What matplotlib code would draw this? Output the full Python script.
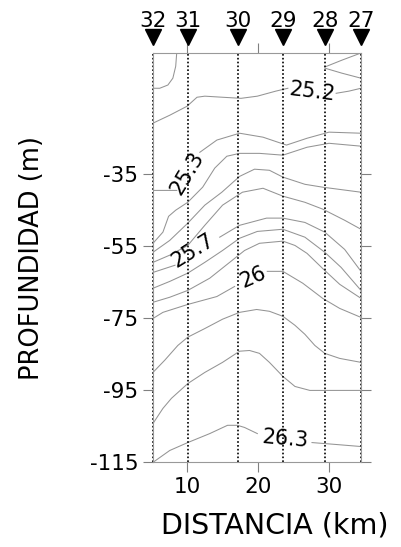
import numpy as np
import matplotlib
matplotlib.use("Agg")
import matplotlib.pyplot as plt
from matplotlib.transforms import blended_transform_factory

nan = np.nan

# estaciones (km)
stations = ["32", "31", "30", "29", "28", "27"]
station_km = [5.2, 10.1, 17.2, 23.5, 29.4, 34.5]

# isolineas de densidad: distancia (km) y profundidad (m), nan = hueco de etiqueta
x_a = [8.55, 8.4, 8.0, 7.3, 6.15, 5.2]
z_a = [-1.1, -5.0, -8.3, -10.2, -11.1, -11.1]
x_w1 = [29.4, 31.8, 34.5]
z_w1 = [-5.2, -3.3, -1.3]
x_w2 = [29.4, 31.8, 34.5]
z_w2 = [-5.5, -6.9, -8.3]

x_252 = [5.2, 7.56, 10.0, 11.4, 12.5, 15.0, 17.6, 19.9, 22.5, 24.2, nan, 31.0, 32.8, 34.5]
z_252 = [-20.8, -18.6, -16.1, -13.6, -13.3, -13.6, -13.9, -13.3, -11.9, -11.1, nan, -12.5, -11.9, -11.1]

x_253 = [5.2, 8.55, nan, 11.8, 14.2, 17.4, 20.7, 24.0, 26.9, 30.0, 34.5]
z_253 = [-39.5, -39.5, nan, -28.9, -25.5, -23.6, -24.7, -26.9, -25.0, -23.3, -23.6]

x_254 = [5.2, 6.6, 7.4, 8.4, 10.1, 12.2, 13.9, 15.6, 17.4, 20.2, 23.5, 26.9, 30.0, 34.5]
z_254 = [-54.2, -51.1, -46.7, -45.0, -42.8, -38.6, -33.3, -30.0, -29.2, -29.2, -29.7, -27.5, -26.4, -27.2]

x_255 = [5.2, 7.56, 10.1, 12.5, 14.9, 17.4, 19.5, 21.6, 23.5, 26.6, 29.1, 34.5]
z_255 = [-56.7, -53.4, -48.6, -43.6, -40.0, -35.6, -33.6, -33.9, -35.8, -37.8, -38.6, -40.0]

x_256 = [5.2, 7.56, 10.1, 12.5, 15.0, 17.8, 20.7, 23.5, 26.6, 29.1, 32.2, 34.5]
z_256 = [-59.5, -57.5, -54.8, -49.2, -43.6, -40.0, -38.9, -41.1, -42.8, -44.7, -47.8, -50.3]

x_257 = [5.2, 8.3, nan, 14.6, 17.4, 21.2, 23.5, 26.6, 29.4, 32.2, 34.5]
z_257 = [-62.3, -60.3, nan, -52.5, -49.2, -47.2, -47.2, -48.4, -51.1, -55.9, -62.0]

x_258 = [5.2, 7.56, 10.1, 12.5, 15.0, 17.4, 19.9, 23.5, 26.6, 29.4, 31.7, 34.5]
z_258 = [-66.7, -64.8, -62.5, -59.5, -56.2, -52.8, -50.9, -50.3, -52.5, -56.7, -60.9, -67.3]

x_259 = [5.2, 7.56, 10.1, 13.2, 16.0, 18.1, 20.2, 23.5, 25.2, 26.9, 29.1, 31.5, 34.5]
z_259 = [-70.6, -69.2, -67.3, -63.9, -59.5, -56.2, -54.2, -53.6, -54.8, -57.0, -61.2, -65.6, -69.5]

x_260 = [5.2, 6.6, 10.1, 14.2, 16.7, nan, 21.3, 23.5, 26.3, 29.1, 31.5, 34.5]
z_260 = [-75.1, -73.4, -71.2, -69.0, -66.2, nan, -62.0, -62.0, -65.3, -69.5, -72.3, -74.8]

x_261 = [5.2, 6.86, 8.7, 10.1, 12.5, 15.0, 17.4, 19.8, 21.6, 23.5, 25.2, 26.6, 28.0, 29.4, 31.5, 34.5]
z_261 = [-90.1, -86.7, -82.6, -80.3, -77.9, -75.3, -73.4, -72.6, -73.1, -74.5, -77.0, -79.5, -82.6, -84.8, -86.2, -87.3]

x_262 = [5.2, 6.6, 7.8, 10.1, 12.5, 15.0, 17.4, 18.8, 20.2, 21.6, 23.5, 25.2, 27.3, 29.4, 34.5]
z_262 = [-104.3, -100.1, -97.3, -93.2, -90.1, -87.3, -84.2, -84.0, -84.8, -87.3, -91.2, -94.0, -95.1, -95.1, -95.1]

x_263 = [5.2, 7.56, 10.1, 13.2, 15.7, 17.1, 18.1, 19.9, nan, 27.6, 30.8, 34.5]
z_263 = [-115.1, -111.8, -109.6, -107.1, -104.8, -104.8, -105.4, -107.1, nan, -109.6, -110.1, -110.7]

# etiquetas de las isolineas
label_text = ["25.2", "25.3", "25.7", "26", "26.3"]
label_x = [27.6, 10.0, 10.8, 19.25, 23.8]
label_z = [-12.2, -34.7, -56.1, -63.7, -108.5]
label_rot = [-7, 59, 32, 24, -5]

plt.rcParams["axes.unicode_minus"] = False
plt.rcParams["font.family"] = "DejaVu Sans"

fig = plt.figure(figsize=(4.01, 5.47), dpi=100)
ax = fig.add_axes([0.3815, 0.1554, 0.5187, 0.7477])

lines = [(x_a, z_a), (x_w1, z_w1), (x_w2, z_w2), (x_252, z_252), (x_253, z_253),
         (x_254, z_254), (x_255, z_255), (x_256, z_256), (x_257, z_257),
         (x_258, z_258), (x_259, z_259), (x_260, z_260), (x_261, z_261),
         (x_262, z_262), (x_263, z_263)]
for xs, zs in lines:
    ax.plot(xs, zs, color="0.58", lw=0.75)

for t, x, z, r in zip(label_text, label_x, label_z, label_rot):
    ax.text(x, z, t, rotation=r, ha="center", va="center", fontsize=15,
            rotation_mode="anchor")

# estaciones: lineas punteadas, triangulos y numeros
for s in station_km:
    ax.axvline(s, color="k", ls=(0, (1, 1.3)), lw=1.2, clip_on=False)

trans = blended_transform_factory(ax.transData, ax.transAxes)
ax.plot(station_km, [1.039] * len(station_km), "v", ms=12, color="k",
        transform=trans, clip_on=False)
for name, s in zip(stations, station_km):
    ax.text(s, 1.078, name, transform=trans, ha="center", va="center", fontsize=15.5)

ax.set_xlim(5.2, 34.5)
ax.set_ylim(-115, -1.3)
ax.set_xticks([10, 20, 30])
ax.set_yticks([-35, -55, -75, -95, -115])
ax.tick_params(direction="out", length=7, width=0.8, color="0.5", labelsize=15.5,
               top=True, right=True, labeltop=False, labelright=False)
for sp in ax.spines.values():
    sp.set_color("0.6")
    sp.set_linewidth(0.8)

ax.set_xlabel("DISTANCIA (km)", fontsize=20.5)
ax.xaxis.set_label_coords(0.587, -0.12)
ax.set_ylabel("PROFUNDIDAD (m)", fontsize=18.5)
ax.yaxis.set_label_coords(-0.52, 0.5)

fig.savefig("out.png", dpi=100)
